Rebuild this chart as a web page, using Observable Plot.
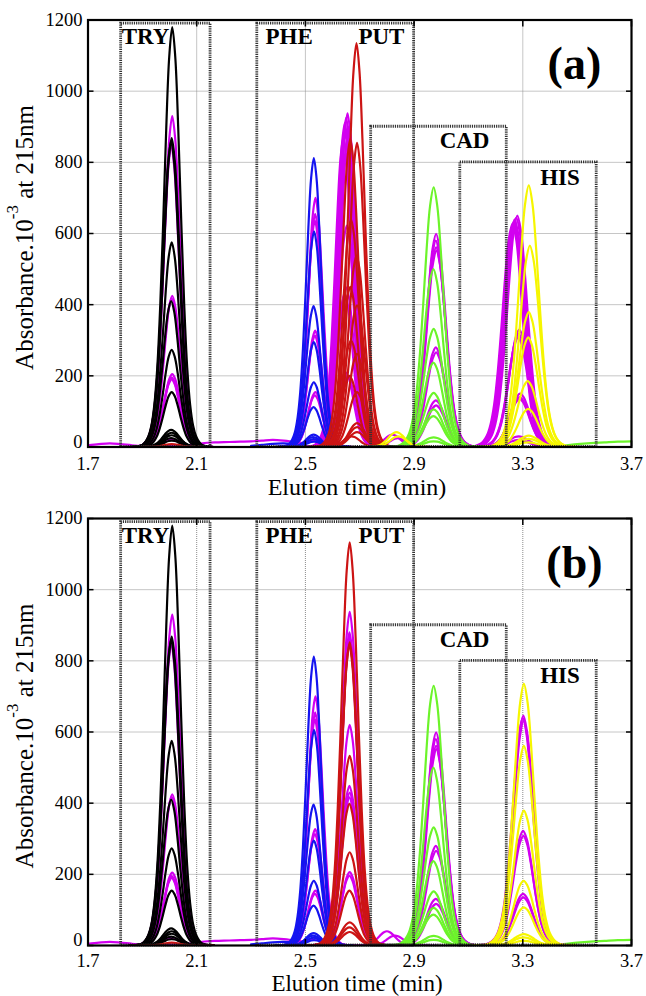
<!DOCTYPE html>
<html>
<head>
<meta charset="utf-8">
<script src="https://cdn.jsdelivr.net/npm/d3@7"></script>
<script src="https://cdn.jsdelivr.net/npm/@observablehq/plot@0.6"></script>
<style>
html, body { margin: 0; padding: 0; background: #fff; overflow: hidden; }
#chart svg { display: block; }
svg text { font-family: "Liberation Serif", "Times New Roman", serif; }
</style>
</head>
<body>
<div id="chart"></div>
<script>
// ---------- axes ----------
const xTicks = [1.7, 2.1, 2.5, 2.9, 3.3, 3.7];
const yTicks = [0, 200, 400, 600, 800, 1000, 1200];
const xTitle = "Elution time (min)";
const yTitleMain = "Absorbance.10";
const yTitleSup = "-3";
const yTitleEnd = " at 215nm";

// ---------- compound windows (dotted boxes) ----------
const boxLeft  = [1.822, 2.323, 2.742, 3.070];
const boxRight = [2.151, 2.900, 3.241, 3.572];
const boxTop   = [1190, 1190, 900, 800];

// ---------- compound labels ----------
const tagNames = ["TRY", "PHE", "PUT", "CAD", "HIS"];
const tagTime  = [1.824, 2.353, 2.695, 2.994, 3.364];
const tagValue = [1153, 1153, 1153, 861, 758];

const panelNames = ["(a)", "(b)"];
const panelLabelTime = 3.49;
const panelLabelValue = 1075;

// ---------- peak shape (relative height vs. offset from apex, min) ----------
const profileOffset = [-0.14, -0.12, -0.10, -0.09, -0.08, -0.07, -0.06, -0.05, -0.04, -0.03, -0.02, -0.01, 0,
                        0.01, 0.02, 0.03, 0.04, 0.05, 0.06, 0.07, 0.08, 0.09, 0.10, 0.12, 0.14];
const profileRatio  = [0, 0.001, 0.005, 0.012, 0.025, 0.05, 0.10, 0.19, 0.34, 0.54, 0.76, 0.93, 1,
                        0.93, 0.76, 0.54, 0.34, 0.19, 0.10, 0.05, 0.025, 0.012, 0.005, 0.001, 0];
const compoundNames = ["TRY", "PHE", "PUT", "CAD", "HIS"];
const compoundWidth = [1.1, 1.0, 1.1, 1.3, 1.35];

// ---------- series colours ----------
const cBlack = "#000000", cMagenta = "#d200f0", cBlue = "#1414f0",
      cRed = "#cc1414", cGreen = "#6cf42a", cYellow = "#f6f600";

// ---------- peaks: [compound, apex time, apex height] ----------
const blackPeaks = [
  ["TRY",2.010,1180],["TRY",2.008,868],["TRY",2.006,860],["TRY",2.008,575],["TRY",2.006,410],
  ["TRY",2.008,273],["TRY",2.008,154],["TRY",2.006,48],["TRY",2.008,40],["TRY",2.008,33],
  ["TRY",2.006,25],["TRY",2.008,18]
];
const bluePeaks = [
  ["PHE",2.531,812],["PHE",2.532,606],["PHE",2.530,396],["PHE",2.531,295],["PHE",2.531,182],
  ["PHE",2.530,112],["PHE",2.530,35],["PHE",2.528,28],["PHE",2.530,22],["PHE",2.532,15]
];
const greenPeaks = [
  ["CAD",2.972,730],["CAD",2.971,500],["CAD",2.972,332],["CAD",2.971,237],["CAD",2.972,152],
  ["CAD",2.972,106],["CAD",2.971,87],["CAD",2.972,27],["CAD",2.972,16]
];
const magentaShared = [
  ["TRY",2.010,930],["TRY",2.008,858],["TRY",2.006,850],["TRY",2.010,425],["TRY",2.008,418],
  ["TRY",2.010,205],["TRY",2.008,195],["TRY",2.008,190],["TRY",2.008,22],
  ["PHE",2.537,700],["PHE",2.536,655],["PHE",2.535,636],["PHE",2.536,327],["PHE",2.535,313],
  ["PHE",2.537,154],["PHE",2.535,145],["PHE",2.535,20],
  ["CAD",2.981,599],["CAD",2.980,580],["CAD",2.981,561],["CAD",2.982,552],["CAD",2.980,280],
  ["CAD",2.981,266],["CAD",2.980,131],["CAD",2.981,117]
];
const magentaA = [
  ["PUT",2.655,938],["PUT",2.650,925],["PUT",2.645,910],["PUT",2.660,900],["PUT",2.648,880],
  ["PUT",2.640,870],["PUT",2.655,865],["PUT",2.652,622],["PUT",2.650,449],["PUT",2.645,430],
  ["PUT",2.648,210],["PUT",2.655,200],["PUT",2.820,35],["PUT",2.840,25],
  ["HIS",3.280,650],["HIS",3.276,645],["HIS",3.270,640],["HIS",3.266,632],["HIS",3.262,628],
  ["HIS",3.272,625],["HIS",3.287,330],["HIS",3.285,318],["HIS",3.283,308],["HIS",3.290,150],
  ["HIS",3.288,140],["HIS",3.288,135],["HIS",3.285,30],["HIS",3.285,20]
];
const magentaB = [
  ["PUT",2.663,938],["PUT",2.662,880],["PUT",2.663,866],["PUT",2.662,858],["PUT",2.663,620],
  ["PUT",2.662,449],["PUT",2.663,430],["PUT",2.662,416],["PUT",2.663,206],["PUT",2.662,196],
  ["PUT",2.800,40],["PUT",2.830,28],
  ["HIS",3.302,646],["HIS",3.300,640],["HIS",3.303,632],["HIS",3.301,322],["HIS",3.302,308],
  ["HIS",3.301,145],["HIS",3.302,135]
];
const redA = [
  ["TRY",2.008,8],
  ["PUT",2.688,1135],["PUT",2.690,855],["PUT",2.665,865],["PUT",2.668,640],["PUT",2.688,538],
  ["PUT",2.665,450],["PUT",2.690,398],["PUT",2.668,300],["PUT",2.690,262],["PUT",2.662,200],
  ["PUT",2.690,154],["PUT",2.690,67],["PUT",2.690,56],["PUT",2.690,42],["PUT",2.670,30]
];
const redB = [
  ["TRY",2.008,8],
  ["PUT",2.663,1133],["PUT",2.663,852],["PUT",2.662,845],["PUT",2.663,533],["PUT",2.662,398],
  ["PUT",2.663,262],["PUT",2.662,154],["PUT",2.663,65],["PUT",2.662,51],["PUT",2.663,38]
];
const yellowA = [
  ["PUT",2.835,42],["PUT",2.842,30],
  ["HIS",3.322,735],["HIS",3.326,566],["HIS",3.322,379],["HIS",3.320,308],["HIS",3.318,185],
  ["HIS",3.320,107],["HIS",3.322,32],["HIS",3.322,23],["HIS",3.320,13]
];
const yellowB = [
  ["HIS",3.304,735],["HIS",3.304,561],["HIS",3.304,379],["HIS",3.303,182],["HIS",3.304,107],
  ["HIS",3.304,32],["HIS",3.303,23],["HIS",3.304,13]
];

// ---------- baselines ----------
const magentaBaseTime  = [1.70,1.74,1.78,1.82,1.86,1.90,1.94,1.98,2.02,2.06,2.10,2.14,2.18,2.22,2.26,2.30,2.34,2.38,2.42,2.46,2.50];
const magentaBaseValue = [5,8,10,8,5,3,3,3,3,4,8,12,13,14,15,16,18,20,18,14,10];
const blueBaseTime  = [2.30,2.34,2.38,2.42,2.46];
const blueBaseValue = [3,6,9,10,8];
const greenBaseTime  = [3.40,3.45,3.50,3.55,3.60,3.65,3.70];
const greenBaseValue = [1,4,8,11,13,15,16];

// ---------- helpers ----------
function peakRows(list, tag) {
  const rows = [];
  list.forEach(([cmp, center, height], i) => {
    const w = compoundWidth[compoundNames.indexOf(cmp)];
    profileOffset.forEach((off, j) => {
      rows.push({id: tag + i, t: center + off * w, v: height * profileRatio[j]});
    });
  });
  return rows;
}
function baseRows(times, values) {
  return times.map((t, i) => ({t, v: values[i]}));
}
const fontFam = "Liberation Serif";

function makePanel(idx, groups, cfg) {
  const plotH = 427;
  const marginTop = cfg.top;
  const marginBottom = cfg.height - marginTop - plotH;
  const lineOpts = {x: "t", y: "v", z: "id", strokeWidth: 2.2, curve: "catmull-rom", clip: true};
  const marks = [
    Plot.gridX(xTicks, {stroke: "#8c8c8c", strokeOpacity: 1, strokeWidth: 1, strokeDasharray: "1,1"}),
    Plot.gridY(yTicks, {stroke: "#8c8c8c", strokeOpacity: 1, strokeWidth: 1, strokeDasharray: "1,1"}),
    Plot.line(baseRows(magentaBaseTime, magentaBaseValue), {x: "t", y: "v", stroke: cMagenta, strokeWidth: 2.2, curve: "catmull-rom", clip: true}),
    Plot.line(baseRows(blueBaseTime, blueBaseValue), {x: "t", y: "v", stroke: cBlue, strokeWidth: 2.2, curve: "catmull-rom", clip: true}),
    Plot.line(baseRows(greenBaseTime, greenBaseValue), {x: "t", y: "v", stroke: cGreen, strokeWidth: 2.2, curve: "catmull-rom", clip: true})
  ];
  groups.forEach(([list, color], g) => {
    marks.push(Plot.line(peakRows(list, "g" + g + "-"), {...lineOpts, stroke: color}));
  });
  marks.push(
    Plot.rect(boxLeft, {
      x1: (d, i) => boxLeft[i], x2: (d, i) => boxRight[i], y1: 0, y2: (d, i) => boxTop[i],
      fill: "none", stroke: "#333", strokeWidth: 2.8, strokeDasharray: "1.2,1"
    }),
    Plot.frame({stroke: "black", strokeWidth: 2.2}),
    Plot.axisX(xTicks, {anchor: "bottom", tickSize: 0, tickPadding: cfg.tickPad, fontSize: 18.5, fontFamily: fontFam, label: null, tickFormat: d => d.toFixed(1)}),
    Plot.axisY(yTicks.filter(d => d > 0), {anchor: "left", tickSize: 0, tickPadding: 5.5, fontSize: 18.5, fontFamily: fontFam, label: null, tickFormat: d => String(d)}),
    Plot.axisY(yTicks.filter(d => d === 0), {anchor: "left", tickSize: 0, tickPadding: 5.5, dy: cfg.zeroDy, fontSize: 18.5, fontFamily: fontFam, label: null, tickFormat: d => String(d)}),
    Plot.axisX(xTicks, {anchor: "bottom", tickSize: -6, strokeWidth: 1.5, tickFormat: () => "", label: null}),
    Plot.axisX(xTicks, {anchor: "top", tickSize: -6, strokeWidth: 1.5, tickFormat: () => "", label: null}),
    Plot.axisY(yTicks, {anchor: "left", tickSize: -6, strokeWidth: 1.5, tickFormat: () => "", label: null}),
    Plot.axisY(yTicks, {anchor: "right", tickSize: -6, strokeWidth: 1.5, tickFormat: () => "", label: null}),
    Plot.text(tagNames, {
      x: (d, i) => tagTime[i], y: (d, i) => tagValue[i], text: d => d,
      textAnchor: "start", lineAnchor: "middle", fontWeight: "bold", fontSize: 23, fontFamily: fontFam, fill: "black"
    }),
    Plot.text([panelNames[idx]], {
      x: () => panelLabelTime, y: () => panelLabelValue, text: d => d,
      textAnchor: "middle", lineAnchor: "middle", fontWeight: "bold", fontSize: 46, fontFamily: fontFam, fill: "black"
    })
  );
  const svg = Plot.plot({
    width: 646, height: cfg.height,
    marginLeft: 87.5, marginRight: 15, marginTop, marginBottom,
    x: {domain: [1.7, 3.7]},
    y: {domain: [0, 1200]},
    style: {background: "white", fontFamily: fontFam},
    marks
  });
  const s = d3.select(svg);
  s.append("text")
    .attr("x", 357).attr("y", cfg.titleY)
    .attr("text-anchor", "middle")
    .attr("font-size", cfg.titleSize).attr("fill", "black")
    .text(xTitle);
  const yt = s.append("text")
    .attr("transform", `translate(33,${marginTop + 218}) rotate(-90)`)
    .attr("text-anchor", "middle")
    .attr("font-size", 25).attr("fill", "black");
  yt.append("tspan").text(yTitleMain);
  yt.append("tspan").attr("font-size", 17).attr("dy", -15).text(yTitleSup);
  yt.append("tspan").attr("dy", 15).text(yTitleEnd);
  return svg;
}

const root = document.getElementById("chart");
root.appendChild(makePanel(0, [
  [magentaShared, cMagenta], [magentaA, cMagenta], [blackPeaks, cBlack], [bluePeaks, cBlue],
  [redA, cRed], [greenPeaks, cGreen], [yellowA, cYellow]
], {height: 500, top: 19.5, tickPad: 10, zeroDy: -4.5, titleY: 494.5, titleSize: 24}));
root.appendChild(makePanel(1, [
  [magentaShared, cMagenta], [magentaB, cMagenta], [blackPeaks, cBlack], [bluePeaks, cBlue],
  [redB, cRed], [greenPeaks, cGreen], [yellowB, cYellow]
], {height: 496, top: 18, tickPad: 8, zeroDy: -5.5, titleY: 490.8, titleSize: 23}));
</script>
</body>
</html>
